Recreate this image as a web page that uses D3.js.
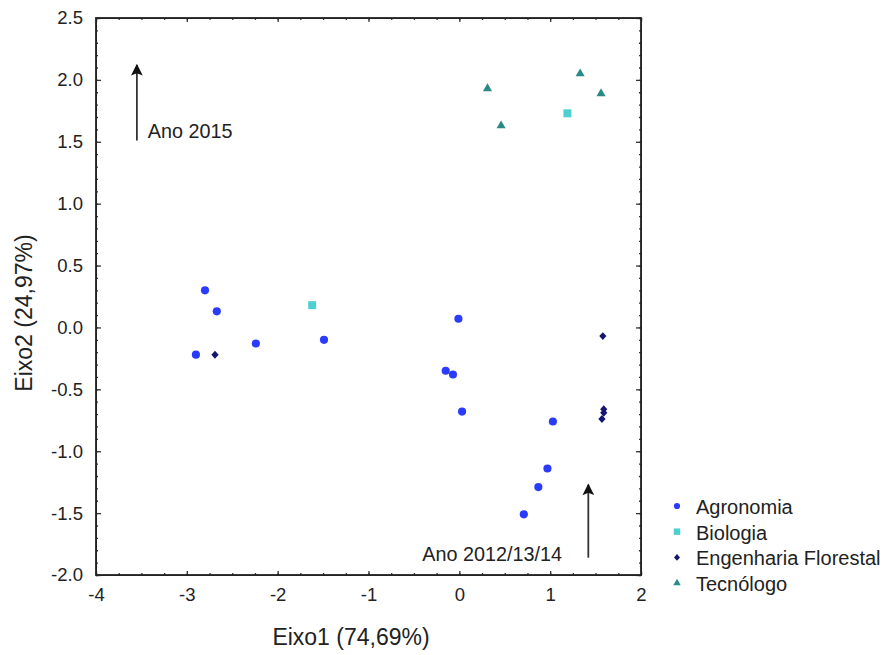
<!DOCTYPE html>
<html>
<head>
<meta charset="utf-8">
<script src="https://cdn.jsdelivr.net/npm/d3@7"></script>
<style>
    body { margin: 0; background: #fff; }
    svg text { font-family: "Liberation Sans", Arial, sans-serif; fill: #222; }
</style>
</head>
<body>
<div id="chart"></div>
<script>
// data
var agronomia = [
    [-2.80, 0.30], [-2.67, 0.13], [-2.90, -0.22], [-2.24, -0.13], [-1.49, -0.10],
    [-0.01, 0.07], [-0.15, -0.35], [-0.07, -0.38], [0.03, -0.68], [1.03, -0.76],
    [0.97, -1.14], [0.87, -1.29], [0.71, -1.51]
];
var biologia = [[-1.62, 0.18], [1.19, 1.73]];
var engenharia = [[-2.69, -0.22], [1.58, -0.07], [1.59, -0.66], [1.59, -0.69], [1.57, -0.74]];
var tecnologo = [[0.31, 1.93], [0.46, 1.63], [1.33, 2.05], [1.56, 1.89]];

var x_ticks = [-4, -3, -2, -1, 0, 1, 2];
var y_ticks = [-2.0, -1.5, -1.0, -0.5, 0.0, 0.5, 1.0, 1.5, 2.0, 2.5];

// arrows
var arrows = [
    {label: 'Ano 2015', x: -3.55, from: 1.51, to: 2.12, lx: -3.43, ly: 1.53, anchor: 'start'},
    {label: 'Ano 2012/13/14', x: 1.42, from: -1.86, to: -1.27, lx: 1.13, ly: -1.89, anchor: 'end'}
];

var series = [
    {name: 'Agronomia', data: agronomia, color: '#2b3bfb', shape: 'circle'},
    {name: 'Biologia', data: biologia, color: '#4fd0d0', shape: 'square'},
    {name: 'Engenharia Florestal', data: engenharia, color: '#161670', shape: 'diamond'},
    {name: 'Tecnólogo', data: tecnologo, color: '#2a8a88', shape: 'triangle'}
];

var width = 889, height = 655;
var margin = {left: 96, top: 18, right: 248, bottom: 80};
var plot_w = width - margin.left - margin.right;
var plot_h = height - margin.top - margin.bottom;

var svg = d3.select('#chart').append('svg')
    .attr('width', width)
    .attr('height', height);

var g = svg.append('g')
    .attr('transform', 'translate(' + margin.left + ',' + margin.top + ')');

var x_scale = d3.scaleLinear().domain([-4, 2]).range([0, plot_w]);
var y_scale = d3.scaleLinear().domain([-2, 2.5]).range([plot_h, 0]);

// minor ticks
var x_minor = d3.range(-4, 2.001, 0.25);
var y_minor = d3.range(-2, 2.501, 0.1);

// hyphen instead of unicode minus, like the original
var fmt_x = function(d) { return d3.format('d')(d).replace('\u2212', '-'); };
var fmt_y = function(d) { return d3.format('.1f')(d).replace('\u2212', '-'); };

// bottom
g.append('g')
    .attr('transform', 'translate(0,' + plot_h + ')')
    .call(d3.axisBottom(x_scale).tickValues(x_minor).tickSizeInner(-2).tickSizeOuter(0).tickFormat(''));
g.append('g')
    .attr('transform', 'translate(0,' + plot_h + ')')
    .call(d3.axisBottom(x_scale).tickValues(x_ticks).tickSizeInner(-4).tickSizeOuter(0).tickPadding(13)
        .tickFormat(fmt_x));
// top
g.append('g')
    .call(d3.axisTop(x_scale).tickValues(x_minor).tickSizeInner(-2).tickSizeOuter(0).tickFormat(''));
g.append('g')
    .call(d3.axisTop(x_scale).tickValues(x_ticks).tickSizeInner(-4).tickSizeOuter(0).tickFormat(''));
// left
g.append('g')
    .call(d3.axisLeft(y_scale).tickValues(y_minor).tickSizeInner(-2).tickSizeOuter(0).tickFormat(''));
g.append('g')
    .call(d3.axisLeft(y_scale).tickValues(y_ticks).tickSizeInner(-5).tickSizeOuter(0).tickPadding(13)
        .tickFormat(fmt_y));
// right
g.append('g')
    .attr('transform', 'translate(' + plot_w + ',0)')
    .call(d3.axisRight(y_scale).tickValues(y_minor).tickSizeInner(-2).tickSizeOuter(0).tickFormat(''));
g.append('g')
    .attr('transform', 'translate(' + plot_w + ',0)')
    .call(d3.axisRight(y_scale).tickValues(y_ticks).tickSizeInner(-5).tickSizeOuter(0).tickFormat(''));

g.selectAll('.tick text')
    .style('font-size', '18.5px')
    .style('font-family', '"Liberation Sans", Arial, sans-serif')
    .attr('fill', '#222');
g.selectAll('.domain').attr('stroke', '#333');
g.selectAll('.tick line').attr('stroke', '#333').attr('stroke-width', 1.3);

// frame
g.append('rect')
    .attr('x', 0).attr('y', 0)
    .attr('width', plot_w).attr('height', plot_h)
    .attr('fill', 'none')
    .attr('stroke', '#222')
    .attr('stroke-width', 1.8);

// symbols
var diamondWide = {
    draw: function(context, size) {
        var r = Math.sqrt(size / 2);
        context.moveTo(0, -r * 1.1);
        context.lineTo(r, 0);
        context.lineTo(0, r * 1.1);
        context.lineTo(-r, 0);
        context.closePath();
    }
};

var shape_map = {
    circle: {type: d3.symbolCircle, size: 52, legend: 30},
    square: {type: d3.symbolSquare, size: 64, legend: 42},
    diamond: {type: diamondWide, size: 26, legend: 18},
    triangle: {type: d3.symbolTriangle, size: 36, legend: 24}
};

function symbolPath(shape, legend) {
    var s = shape_map[shape];
    return d3.symbol().type(s.type).size(legend ? s.legend : s.size)();
}

series.forEach(function(s) {
    g.append('g')
        .selectAll('path')
        .data(s.data)
        .enter()
        .append('path')
        .attr('d', symbolPath(s.shape, false))
        .attr('transform', function(d) {
            return 'translate(' + x_scale(d[0]) + ',' + y_scale(d[1]) + ')';
        })
        .attr('fill', s.color);
});

// arrows
svg.append('defs').append('marker')
    .attr('id', 'arrowhead')
    .attr('viewBox', '0 0 10 10')
    .attr('refX', 9).attr('refY', 5)
    .attr('markerWidth', 8).attr('markerHeight', 6.5)
    .attr('markerUnits', 'strokeWidth')
    .attr('orient', 'auto')
    .append('path')
    .attr('d', 'M0,0 L10,5 L0,10 L2,5 Z')
    .attr('fill', '#111');

arrows.forEach(function(a) {
    g.append('line')
        .attr('x1', x_scale(a.x)).attr('x2', x_scale(a.x))
        .attr('y1', y_scale(a.from)).attr('y2', y_scale(a.to))
        .attr('stroke', '#333')
        .attr('stroke-width', 1.8)
        .attr('marker-end', 'url(#arrowhead)');
    g.append('text')
        .attr('x', x_scale(a.lx))
        .attr('y', y_scale(a.ly))
        .attr('text-anchor', a.anchor)
        .style('font-size', '19.8px')
        .text(a.label);
});

// axis titles
svg.append('text')
    .attr('x', 351)
    .attr('y', 645)
    .attr('text-anchor', 'middle')
    .style('font-size', '23px')
    .text('Eixo1 (74,69%)');

svg.append('text')
    .attr('transform', 'translate(32,313) rotate(-90)')
    .attr('text-anchor', 'middle')
    .style('font-size', '23px')
    .text('Eixo2 (24,97%)');

// legend
var legend = svg.append('g')
    .attr('transform', 'translate(677,506)');

var legend_item = legend.selectAll('.legend-item')
    .data(series)
    .enter()
    .append('g')
    .classed('legend-item', true)
    .attr('transform', function(d, i) {
        return 'translate(0,' + (25.7 * i) + ')';
    });

legend_item.append('path')
    .attr('d', function(d) { return symbolPath(d.shape, true); })
    .attr('fill', function(d) { return d.color; });

legend_item.append('text')
    .attr('x', 19)
    .attr('y', 1)
    .attr('dominant-baseline', 'central')
    .style('font-size', '20px')
    .text(function(d) { return d.name; });
</script>
</body>
</html>
